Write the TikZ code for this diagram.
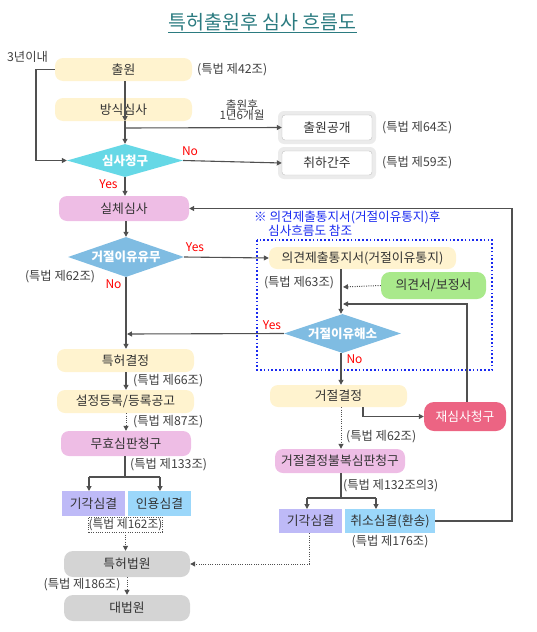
\documentclass[tikz,border=0pt]{standalone}
\usepackage{fontspec}
\setmainfont{Noto Sans CJK KR}
\usetikzlibrary{shapes.geometric,arrows.meta}
\newcommand\fsz[1]{\fontsize{#1}{#1}\selectfont}
\definecolor{cream}{HTML}{FFF3CF}
\definecolor{pinkb}{HTML}{EEBDE5}
\definecolor{grayb}{HTML}{D4D4D4}
\definecolor{cyand}{HTML}{66D8E6}
\definecolor{blued}{HTML}{7FBCE2}
\definecolor{lavb}{HTML}{BEBAF7}
\definecolor{ltblue}{HTML}{9BD7FA}
\definecolor{greenb}{HTML}{A9E98B}
\definecolor{redb}{HTML}{EC6483}
\definecolor{linec}{HTML}{505050}
\definecolor{titlec}{HTML}{2B7B80}
\definecolor{bluet}{HTML}{1A2AF0}
\tikzset{
  bx/.style={rectangle, rounded corners=8pt, inner sep=0pt, font=\fsz{12.8}, text=black!80},
  sq/.style={rectangle, inner sep=0pt, font=\fsz{12.8}, text=black!80},
  dia/.style={diamond, aspect=3.5, inner sep=0pt, font=\bfseries\fsz{12.5}, text=white},
  wbox/.style={rectangle, rounded corners=3pt, draw=black!25, fill=white, inner sep=0pt, font=\fsz{12.8}, text=black!80, minimum width=90pt},
  lbl/.style={font=\fsz{12.3}, text=black!75, inner sep=0pt},
  yn/.style={font=\fsz{12}, text=red, inner sep=0pt},
  ln/.style={draw=linec, line width=1.1pt},
  ar/.style={ln, -{Triangle[length=5pt,width=5pt]}},
  dt/.style={draw=linec, line width=1pt, dash pattern=on 1pt off 1.3pt},
  dar/.style={dt, -{Triangle[length=5pt,width=5pt]}}
}
\begin{document}
\begin{tikzpicture}[x=1pt,y=-1pt]
\useasboundingbox (0,0) rectangle (537,632);
% title
\node[font=\fsz{19.5}, text=titlec, inner sep=0pt] (title) at (262.5,23) {\underline{특허출원후 심사 흐름도}};
% left column
\node[bx, fill=cream, minimum width=137pt, minimum height=23pt] (n1) at (123.5,69.5) {출원};
\node[bx, fill=cream, minimum width=137pt, minimum height=23pt] (n2) at (123.5,109.5) {방식심사};
\node[dia, fill=cyand, minimum width=116pt, minimum height=33pt] (d1) at (125,160.5) {심사청구};
\node[bx, fill=pinkb, minimum width=130pt, minimum height=25pt] (n5) at (124,208.5) {실체심사};
\node[dia, fill=blued, minimum width=116pt, minimum height=40pt] (d2) at (126,257) {거절이유유무};
\node[bx, fill=cream, minimum width=137pt, minimum height=23pt] (n6) at (125.5,360.5) {특허결정};
\node[bx, fill=cream, minimum width=137pt, minimum height=23pt] (n7) at (125.5,401.5) {설정등록/등록공고};
\node[bx, fill=pinkb, minimum width=130pt, minimum height=25pt] (n8) at (126,443.5) {무효심판청구};
\node[sq, fill=lavb, minimum width=63pt, minimum height=25pt] (n9) at (93.5,503.5) {기각심결};
\node[sq, fill=ltblue, minimum width=63pt, minimum height=25pt] (n10) at (159.5,503.5) {인용심결};
\node[lbl, font=\fsz{11.8}, draw=linec, line width=0.9pt, dash pattern=on 1pt off 1.3pt, minimum width=71pt, minimum height=15pt] (l162) at (125.5,524.5) {(특법 제162조)};
\node[bx, rounded corners=9pt, fill=grayb, minimum width=126pt, minimum height=26pt] (n11) at (127,564) {특허법원};
\node[bx, rounded corners=9pt, fill=grayb, minimum width=126pt, minimum height=26pt] (n12) at (127,608) {대법원};
% publication boxes
\fill[black!8, rounded corners=6pt] (278,111) rectangle (376,144);
\fill[black!8, rounded corners=6pt] (278,147) rectangle (376,179);
\node[wbox, minimum height=25pt] (n3) at (327,127.5) {출원공개};
\node[wbox, minimum height=24pt] (n4) at (327,163) {취하간주};
% right column
\node[font=\fsz{12.6}, text=bluet, inner sep=0pt, anchor=west] (note1) at (254,217) {※ 의견제출통지서(거절이유통지)후};
\node[font=\fsz{12.6}, text=bluet, inner sep=0pt, anchor=west] (note2) at (268,231) {심사흐름도 참조};
\draw[bluet, line width=1.6pt, dash pattern=on 1.6pt off 2.2pt] (257,240) rectangle (492,370);
\node[bx, fill=cream, minimum width=187pt, minimum height=22pt] (n13) at (362.5,258) {의견제출통지서(거절이유통지)};
\node[bx, rounded corners=9pt, fill=greenb, minimum width=105pt, minimum height=27pt] (n14) at (433.5,285.5) {의견서/보정서};
\node[dia, fill=blued, minimum width=117pt, minimum height=39pt] (d3) at (342.5,333.5) {거절이유해소};
\node[bx, fill=cream, minimum width=137pt, minimum height=22pt] (n15) at (338.5,396) {거절결정};
\node[bx, rounded corners=10pt, fill=redb, text=white, minimum width=82pt, minimum height=29pt] (n16) at (465,416.5) {재심사청구};
\node[bx, fill=pinkb, minimum width=130pt, minimum height=24pt] (n17) at (340,461) {거절결정불복심판청구};
\node[sq, fill=lavb, minimum width=63pt, minimum height=24pt] (n18) at (310.5,521) {기각심결};
\node[sq, fill=ltblue, minimum width=90pt, minimum height=24pt] (n19) at (390,521) {취소심결(환송)};
% labels
\node[lbl] (t3y) at (27.5,57) {3년이내};
\node[lbl, anchor=west] (l42) at (197,69.5) {(특법 제42조)};
\node[lbl, align=center, font=\fsz{11.6}] (l18) at (242,110) {출원후\\[-1pt]1년6개월};
\node[lbl, anchor=west] (l64) at (382,127.5) {(특법 제64조)};
\node[lbl, anchor=west] (l59) at (382,163) {(특법 제59조)};
\node[yn] (no1) at (190,151) {No};
\node[yn] (yes1) at (108.5,184) {Yes};
\node[yn] (yes2) at (195,247.5) {Yes};
\node[yn] (no2) at (113.5,284) {No};
\node[lbl] (l62a) at (60,277) {(특법 제62조)};
\node[lbl] (l63) at (299,283) {(특법 제63조)};
\node[yn] (yes3) at (272,325.5) {Yes};
\node[yn] (no3) at (354.5,359) {No};
\node[lbl, anchor=west] (l66) at (133,381) {(특법 제66조)};
\node[lbl, anchor=west] (l87) at (133,422) {(특법 제87조)};
\node[lbl, anchor=west] (l133) at (130,465) {(특법 제133조)};
\node[lbl, anchor=west] (l62b) at (346,437) {(특법 제62조)};
\node[lbl, anchor=west] (l132) at (343,486) {(특법 제132조의3)};
\node[lbl] (l176) at (390,542) {(특법 제176조)};
\node[lbl] (l186) at (82,585) {(특법 제186조)};
% coordinates
\coordinate (b1) at (125,128);
\coordinate (s1) at (125,477);
\coordinate (s2) at (341,498);
\coordinate (rr) at (512,521);
\coordinate (c1) at (341,304);
\coordinate (c2) at (341,287);
\coordinate (c3) at (127,334);
% connectors left
\draw[ar] (n1.west) -- (36,69.5) |- (d1.west);
\draw[ar] (n1.south -| b1) -- (n2.south -| b1);
\draw[ar] (n2.south -| b1) -- (d1.north);
\draw[ar] (b1) -- (n3.west);
\draw[ar] (d1.east) -- (n4.west);
\draw[ar] (d1.south) -- (n5.north -| d1.south);
\draw[ar] (n5.south -| d2.north) -- (d2.north);
\draw[ar] (d2.east) -- (n13.west);
\draw[ar] (d2.south) -- (n6.north -| d2.south);
\draw[ar] (d3.west) -- (c3);
\draw[ar] (n6.south -| d2.south) -- (n7.north -| d2.south);
\draw[dar] (n7.south -| d2.south) -- (n8.north -| d2.south);
\draw[ln] (n8.south -| s1) -- (s1);
\draw[ar] (89,477) -- (89,491);
\draw[ln] (89,477) -- (160,477);
\draw[ar] (160,477) -- (160,491);
\draw[dar] (l162.south) -- (n11.north -| l162.south);
\draw[dar] (n11.south) -- (n12.north);
\draw[dar] (n18.south -| 309,0) |- (n11.east);
% right connectors
\draw[ar] (n13.south -| c1) -- (d3.north -| c1);
\draw[dar] (n14.west) -- (c2 -| 343,0);
\draw[ar] (n16.north -| 467,0) |- (c1 -| 343,0);
\draw[ar] (d3.south -| c1) -- (n15.north -| c1);
\draw[ar] (n15.south -| 363,0) |- (n16.west);
\draw[dar] (n15.south -| c1) -- (n17.north -| c1);
\draw[ln] (n17.south -| s2) -- (s2);
\draw[ln] (307,498) -- (376,498);
\draw[ar] (307,498) -- (307,509);
\draw[ar] (376,498) -- (376,509);
\draw[ar] (n19.east) -- (rr) |- (n5.east);
\end{tikzpicture}
\end{document}
